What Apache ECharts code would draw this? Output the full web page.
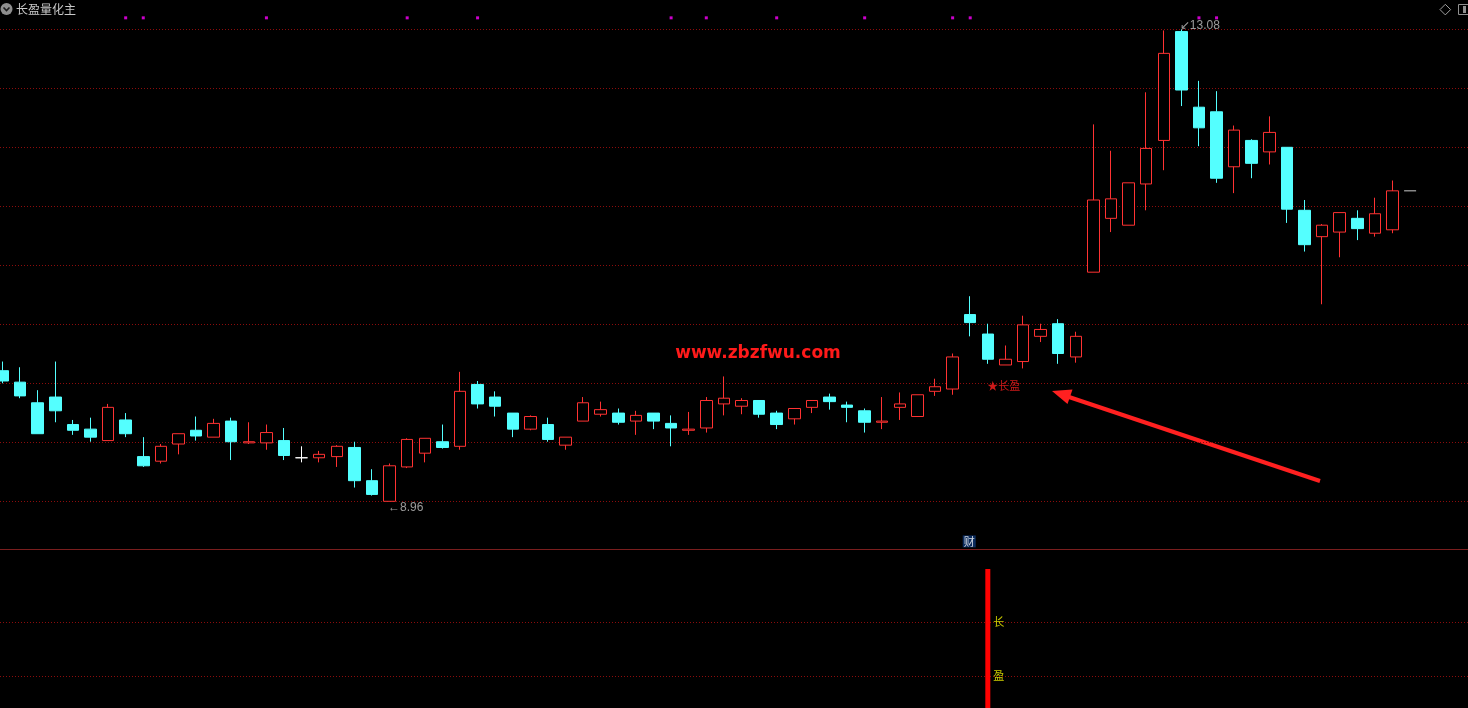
<!DOCTYPE html>
<html><head><meta charset="utf-8">
<script src="https://cdn.jsdelivr.net/npm/echarts@6/dist/echarts.min.js"></script>
<style>html,body{margin:0;padding:0;background:#000;overflow:hidden}#c{width:1468px;height:708px}</style>
</head><body><div id="c"></div>
<script>
// ---- data ----
const opens  = [10.10,10.00,9.82,9.87,9.63,9.59,9.49,9.67,9.35,9.31, 9.46,9.58,9.52,9.66,9.47,9.47,9.49,9.34,9.34,9.35,
                9.43,9.14,8.96,9.26,9.38,9.48,9.44,9.98,9.87,9.73, 9.59,9.63,9.45,9.66,9.72,9.73,9.66,9.73,9.64,9.58,
                9.60,9.81,9.79,9.84,9.73,9.68,9.78,9.87,9.80,9.75, 9.65,9.78,9.70,9.92,9.94,10.59,10.42,10.15,10.18,10.40,
                10.51,10.22,10.96,11.43,11.37,11.73,12.11,13.06,12.40,12.36, 11.88,12.11,12.01,12.05,11.50,11.27,11.31,11.43,11.30,11.33];
const closes = [10.01,9.88,9.55,9.75,9.58,9.52,9.78,9.55,9.27,9.44, 9.55,9.53,9.64,9.48,9.48,9.56,9.36,9.34,9.37,9.44,
                9.14,9.02,9.27,9.50,9.51,9.43,9.92,9.81,9.79,9.59, 9.70,9.50,9.52,9.82,9.76,9.65,9.71,9.66,9.60,9.59,
                9.84,9.86,9.84,9.72,9.63,9.77,9.84,9.83,9.78,9.65, 9.66,9.81,9.89,9.96,10.22,10.52,10.20,10.20,10.50,10.46,
                10.25,10.40,11.59,11.60,11.74,12.04,12.87,12.55,12.22,11.78, 12.20,11.91,12.18,11.51,11.20,11.37,11.48,11.34,11.47,11.67];
const lows   = [9.99,9.86,9.55,9.65,9.54,9.48,9.49,9.52,9.26,9.29, 9.37,9.49,9.52,9.32,9.46,9.41,9.32,9.30,9.30,9.26,
                9.08,9.01,8.96,9.25,9.30,9.42,9.41,9.77,9.70,9.52, 9.58,9.48,9.41,9.66,9.70,9.63,9.54,9.59,9.44,9.54,
                9.56,9.71,9.72,9.69,9.59,9.63,9.73,9.76,9.65,9.56, 9.59,9.67,9.70,9.88,9.89,10.40,10.16,10.15,10.12,10.35,
                10.16,10.17,10.96,11.31,11.37,11.50,11.85,12.41,12.06,11.74, 11.65,11.78,11.90,11.39,11.14,10.68,11.09,11.24,11.27,11.30];
const highs  = [10.18,10.13,9.93,10.18,9.67,9.69,9.81,9.73,9.52,9.46, 9.55,9.70,9.68,9.69,9.65,9.63,9.60,9.44,9.40,9.45,
                9.48,9.24,9.29,9.51,9.51,9.63,10.09,10.01,9.92,9.73, 9.71,9.69,9.52,9.87,9.83,9.77,9.75,9.73,9.71,9.74,
                9.87,10.05,9.86,9.84,9.75,9.77,9.84,9.90,9.83,9.77, 9.87,9.91,9.89,10.03,10.25,10.75,10.51,10.32,10.58,10.51,
                10.55,10.44,12.25,12.02,11.74,12.53,13.07,13.08,12.63,12.54, 12.24,12.12,12.32,12.05,11.59,11.38,11.48,11.50,11.61,11.76];
const signalDays = [7,8,15,23,27,38,40,44,49,54,55,68,69];   // magenta markers at top
const signalLevel = 13.18;
const lastClose = 11.67;        // marker after last candle
const lowDay = 22, lowValue = 8.96;
const highDay = 67, highValue = 13.08;
const tagDay = 56, tagValue = 9.97, tagText = '★长盈';
const finDay = 55, finValue = 8.61, finText = '财';
const subBarDay = 56, subBarValue = 139;
const subTexts = [['长', 86], ['盈', 32]];
const subGridLevels = [32, 86];
const priceMin = 8.96, priceMax = 13.08, priceStep = 0.515;
const subMin = 0, subMax = 140;

const candleData = opens.map((o, i) => [i, o, closes[i], lows[i], highs[i]]);
const X_MIN = -0.1421, X_MAX = 83.291;
const hiddenAxis = {axisLine:{show:false}, axisTick:{show:false}, axisLabel:{show:false}};
const gridLine = {color:'#8c0c0c', type:[1,2], width:1};
const clear = {color:'rgba(0,0,0,0)'};

const chart = echarts.init(document.getElementById('c'));
chart.setOption({
  backgroundColor:'#000',
  animation:false,
  grid:[
    {left:0, right:0, top:29.3, height:472},
    {left:0, right:0, top:568, height:140}
  ],
  xAxis:[
    {type:'value', gridIndex:0, min:X_MIN, max:X_MAX, show:false},
    {type:'value', gridIndex:1, min:X_MIN, max:X_MAX, show:false}
  ],
  yAxis:[
    Object.assign({type:'value', gridIndex:0, min:priceMin, max:priceMax, interval:priceStep,
      splitLine:{show:true, lineStyle:gridLine}}, hiddenAxis),
    Object.assign({type:'value', gridIndex:1, min:subMin, max:subMax,
      splitLine:{show:false}}, hiddenAxis)
  ],
  series:[
    {type:'candlestick', xAxisIndex:0, yAxisIndex:0, data:candleData, encode:{x:0, y:[1,2,3,4]},
     barWidth:12, silent:true,
     itemStyle:{color:'#000000', color0:'#54ffff', borderColor:'#ff3232', borderColor0:'#54ffff',
                borderColorDoji:'#ffffff', borderWidth:1}},
    {type:'scatter', xAxisIndex:0, yAxisIndex:0, clip:false, silent:true, symbol:'rect', symbolSize:3,
     itemStyle:{color:'#ff00ff'}, data:signalDays.map(d => [d, signalLevel])},
    {type:'scatter', xAxisIndex:0, yAxisIndex:0, clip:false, silent:true, symbol:'rect', symbolSize:[12,1],
     itemStyle:{color:'#ffffff'}, data:[[opens.length, lastClose]]},
    {type:'scatter', xAxisIndex:0, yAxisIndex:0, clip:false, silent:true, symbolSize:1, itemStyle:clear,
     data:[
       {value:[lowDay, lowValue], label:{show:true, position:'right', distance:0, offset:[-2,6],
         formatter:'←' + lowValue.toFixed(2), color:'#c0c0c0', fontSize:12, fontFamily:'Liberation Sans'}},
       {value:[highDay, highValue], label:{show:true, position:'right', distance:0, offset:[-2,-4],
         formatter:'↙' + highValue.toFixed(2), color:'#c0c0c0', fontSize:12, fontFamily:'Liberation Sans'}},
       {value:[tagDay, tagValue], label:{show:true, position:'right', distance:0, offset:[-1,0],
         formatter:tagText, color:'#ff2020', fontSize:11, fontFamily:'Noto Sans CJK SC'}},
       {value:[finDay, finValue], label:{show:true, position:'inside', offset:[-1,0],
         formatter:finText, color:'#ffffff', fontSize:11, fontFamily:'Noto Sans CJK SC',
         backgroundColor:'#0e3674', padding:[1,1,0,1]}}
     ]},
    {type:'bar', xAxisIndex:1, yAxisIndex:1, barWidth:5, silent:true, itemStyle:{color:'#ff0000'},
     data:[[subBarDay, subBarValue]],
     markLine:{silent:true, symbol:'none', label:{show:false}, lineStyle:gridLine, z:1,
       data:subGridLevels.map(v => ({yAxis:v}))}},
    {type:'scatter', xAxisIndex:1, yAxisIndex:1, clip:false, silent:true, symbolSize:1, itemStyle:clear,
     data:subTexts.map(t => ({value:[subBarDay, t[1]], label:{show:true, position:'inside', offset:[11,0],
       formatter:t[0], color:'#ffff00', fontSize:11, fontFamily:'Noto Sans CJK SC'}}))}
  ],
  graphic:[
    {type:'circle', shape:{cx:6.5, cy:9, r:6}, style:{fill:'#8e8e8e'}},
    {type:'polyline', shape:{points:[[3.5,7.5],[6.5,10.5],[9.5,7.5]]}, style:{stroke:'#1a1a1a', lineWidth:1.6, fill:null}},
    {type:'text', x:16, y:9, style:{text:'长盈量化主', fill:'#c8c8c8', font:'12px "Noto Sans CJK SC"', verticalAlign:'middle', align:'left'}},
    {type:'polygon', shape:{points:[[1445.3,4.3],[1450.6,9.6],[1445.3,14.9],[1440,9.6]]}, style:{fill:null, stroke:'#a0a0a0', lineWidth:1}},
    {type:'rect', shape:{x:1458.5, y:4.5, width:12, height:10}, style:{fill:null, stroke:'#909090', lineWidth:1}},
    {type:'rect', shape:{x:1463, y:6, width:3, height:7}, style:{fill:'#909090'}},
    {type:'line', shape:{x1:0, y1:549.5, x2:1468, y2:549.5}, style:{stroke:'#7a1e1e', lineWidth:1}},
    {type:'text', x:758, y:354, style:{text:'www.zbzfwu.com', fill:'#ff1a1a', font:'bold 17px "DejaVu Sans"', align:'center', verticalAlign:'middle'}},
    {type:'line', shape:{x1:1320, y1:481, x2:1066, y2:396}, style:{stroke:'#ff2020', lineWidth:4}},
    {type:'polygon', shape:{points:[[1052,391],[1072.5,389.5],[1067.5,404]]}, style:{fill:'#ff2020'}}
  ]
});
</script>
</body></html>
